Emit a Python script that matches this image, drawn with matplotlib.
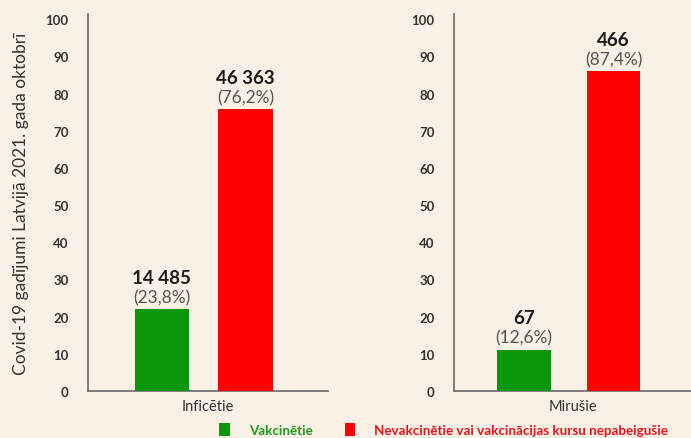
import matplotlib
matplotlib.use("Agg")
import matplotlib.pyplot as plt
from matplotlib.patches import Patch

plt.rcParams['font.family'] = ['Lato', 'DejaVu Sans']

groups = ["Inficētie", "Mirušie"]
series_names = ["Vakcinētie", "Nevakcinētie vai vakcinācijas kursu nepabeigušie"]
# bar heights as drawn (percent scale)
bar_heights = {
    "Inficētie": [22.0, 75.8],
    "Mirušie": [11.0, 86.0],
}
counts = {
    "Inficētie": ["14 485", "46 363"],
    "Mirušie": ["67", "466"],
}
pct_labels = {
    "Inficētie": ["(23,8%)", "(76,2%)"],
    "Mirušie": ["(12,6%)", "(87,4%)"],
}
yticks = [0, 10, 20, 30, 40, 50, 60, 70, 80, 90, 100]
ylabel = "Covid-19 gadījumi Latvijā 2021. gada oktobrī"

bg = "#F9F0E6"
bar_colors = ["#0A980A", "#FF0000"]
legend_text_colors = ["#1E9E1E", "#E8141C"]

fig = plt.figure(figsize=(6.91, 4.39), dpi=100, facecolor=bg)

ax_rects = [
    [88 / 691, 47 / 439, 240 / 691, 377 / 439],
    [454 / 691, 47 / 439, 237 / 691, 377 / 439],
]
xpos_sets = [[0.308, 0.656], [0.295, 0.673]]

for gi, g in enumerate(groups):
    ax = fig.add_axes(ax_rects[gi])
    ax.set_facecolor(bg)
    xs = xpos_sets[gi]
    ax.bar(xs, bar_heights[g], width=0.226, color=bar_colors, zorder=3)
    ax.set_xlim(0, 1)
    ax.set_ylim(0, 101.4)
    ax.set_yticks(yticks)
    ax.set_yticklabels([str(t) for t in yticks], fontsize=9.5, fontweight='bold', color='#333333')
    ax.tick_params(axis='y', length=0, pad=14)
    ax.set_xticks([0.5])
    ax.set_xticklabels([g], fontsize=10.5, color='#333333')
    ax.tick_params(axis='x', length=0, pad=6)
    for s in ['top', 'right']:
        ax.spines[s].set_visible(False)
    for s in ['left', 'bottom']:
        ax.spines[s].set_color('#6a6a6a')
        ax.spines[s].set_linewidth(1.2)
    for x, h, c, p in zip(xs, bar_heights[g], counts[g], pct_labels[g]):
        ax.annotate(p, (x, h), xytext=(0, 3), textcoords='offset points',
                    ha='center', va='bottom', fontsize=12.5, color='#555555', fontweight='normal')
        ax.annotate(c, (x, h), xytext=(0, 17), textcoords='offset points',
                    ha='center', va='bottom', fontsize=13.5, color='#1a1a1a', fontweight='bold')
    if gi == 0:
        ax.set_ylabel(ylabel, fontsize=12.5, color='#333333', labelpad=12)

handles = [Patch(facecolor=bar_colors[i], edgecolor='none') for i in range(2)]
leg = fig.legend(handles, series_names, loc='lower center', bbox_to_anchor=(0.642, -0.022),
                 ncol=2, frameon=False, handlelength=0.8, handleheight=1.1,
                 handletextpad=1.4, columnspacing=2.4, prop={'size': 9.6, 'weight': 'bold'})
for t, c in zip(leg.get_texts(), legend_text_colors):
    t.set_color(c)

fig.savefig("out.png", dpi=100, facecolor=bg)
